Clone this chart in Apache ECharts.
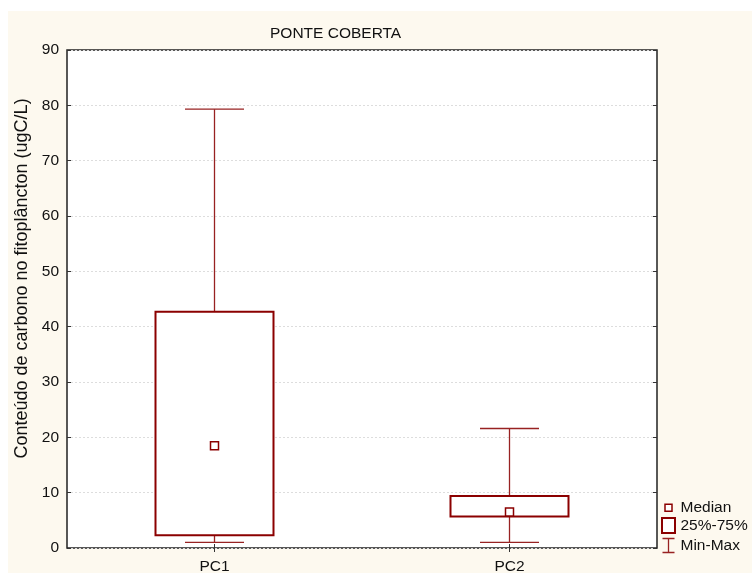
<!DOCTYPE html>
<html>
<head>
<meta charset="utf-8">
<script src="https://cdn.jsdelivr.net/npm/echarts@6/dist/echarts.min.js"></script>
<style>
html,body{margin:0;padding:0;background:#ffffff;}
#chart{position:absolute;left:8px;top:11px;width:744px;height:562px;background:#FDF9EF;}
</style>
</head>
<body>
<div id="chart"></div>
<script>
const categories = ['PC1', 'PC2'];
const minValues = [1.0, 1.0];
const q1Values = [2.3, 5.7];
const medianValues = [18.5, 6.5];
const q3Values = [42.7, 9.4];
const maxValues = [79.3, 21.6];
const yMin = 0, yMax = 90, yStep = 10;
const titleText = 'PONTE COBERTA';
const yAxisTitle = 'Conteúdo de carbono no fitoplâncton (ugC/L)';

const DARK = '#8B0000';
const WHISK = '#982222';
const FONT = 'Liberation Sans, Arial, sans-serif';
const FS = 15.5;

const boxData = categories.map((c, i) => [i, q1Values[i], q3Values[i]]);
const whiskerData = categories.map((c, i) => [i, minValues[i], q1Values[i], q3Values[i], maxValues[i]]);
const medianData = categories.map((c, i) => [i, medianValues[i]]);

const chart = echarts.init(document.getElementById('chart'), null, {renderer: 'canvas'});
chart.setOption({
  backgroundColor: 'transparent',
  animation: false,
  title: {
    text: titleText, left: 262, top: 15, padding: 0,
    textStyle: {fontFamily: FONT, fontSize: FS, fontWeight: 'normal', color: '#111'}
  },
  grid: {
    left: 59, top: 39, right: 95, bottom: 25,
    containLabel: false, outerBoundsMode: 'none',
    show: true, backgroundColor: '#ffffff', borderColor: '#222', borderWidth: 1.5
  },
  legend: {
    orient: 'vertical', left: 646, top: 483,
    itemWidth: 14, itemHeight: 15, itemGap: 1.5,
    textStyle: {fontFamily: FONT, fontSize: FS, color: '#111'},
    selectedMode: false,
    data: [
      {name: 'Median', icon: 'path://M0,0M14,15M3.5,4.5h7v7h-7z',
        itemStyle: {color: '#ffffff', borderColor: DARK, borderWidth: 1.5}},
      {name: '25%-75%', icon: 'path://M0,0h13v15h-13z',
        itemStyle: {color: '#ffffff', borderColor: DARK, borderWidth: 2}},
      {name: 'Min-Max', icon: 'path://M0,0M14,15M1,0.5h12M7,0.5v14M1,14.5h12',
        itemStyle: {color: 'none', borderColor: WHISK, borderWidth: 1.3}}
    ]
  },
  xAxis: [
    {
      type: 'category', data: categories, position: 'bottom', boundaryGap: true,
      axisLine: {show: false},
      axisTick: {show: true, inside: true, alignWithLabel: true, length: 4, lineStyle: {color: '#333', width: 1}},
      axisLabel: {fontFamily: FONT, fontSize: FS, color: '#111', margin: 11},
      splitLine: {show: false}
    },
    {
      type: 'category', data: categories, position: 'top', boundaryGap: true,
      axisLine: {show: false},
      axisTick: {show: true, inside: true, alignWithLabel: true, length: 4, lineStyle: {color: '#333', width: 1}},
      axisLabel: {show: false},
      splitLine: {show: false}
    }
  ],
  yAxis: [
    {
      type: 'value', min: yMin, max: yMax, interval: yStep, position: 'left',
      name: yAxisTitle, nameLocation: 'middle', nameGap: 34, nameRotate: 90,
      nameTextStyle: {fontFamily: FONT, fontSize: 18, color: '#111', padding: [0, 0, 0, 41]},
      axisLine: {show: false},
      axisTick: {show: true, inside: true, length: 4, lineStyle: {color: '#333', width: 1}},
      axisLabel: {fontFamily: FONT, fontSize: FS, color: '#111', margin: 8},
      splitLine: {show: true, lineStyle: {color: '#dddddd', type: [2, 2], width: 1}}
    },
    {
      type: 'value', min: yMin, max: yMax, interval: yStep, position: 'right',
      axisLine: {show: false},
      axisTick: {show: true, inside: true, length: 4, lineStyle: {color: '#333', width: 1}},
      axisLabel: {show: false},
      splitLine: {show: false}
    }
  ],
  series: [
    {
      name: 'Min-Max', type: 'custom', xAxisIndex: 0, yAxisIndex: 0, z: 2,
      data: whiskerData,
      encode: {x: 0, y: [1, 2, 3, 4]},
      renderItem: function (params, api) {
        const x = api.value(0);
        const pMin = api.coord([x, api.value(1)]);
        const pQ1 = api.coord([x, api.value(2)]);
        const pQ3 = api.coord([x, api.value(3)]);
        const pMax = api.coord([x, api.value(4)]);
        const band = api.size([1, 0])[0];
        const half = band * 0.1;
        const st = {stroke: WHISK, lineWidth: 1.3, fill: null};
        return {
          type: 'group',
          children: [
            {type: 'line', shape: {x1: pQ3[0], y1: pQ3[1], x2: pMax[0], y2: pMax[1]}, style: st},
            {type: 'line', shape: {x1: pQ1[0], y1: pQ1[1], x2: pMin[0], y2: pMin[1]}, style: st},
            {type: 'line', shape: {x1: pMax[0] - half, y1: pMax[1], x2: pMax[0] + half, y2: pMax[1]}, style: st},
            {type: 'line', shape: {x1: pMin[0] - half, y1: pMin[1], x2: pMin[0] + half, y2: pMin[1]}, style: st}
          ]
        };
      }
    },
    {
      name: '25%-75%', type: 'custom', xAxisIndex: 0, yAxisIndex: 0, z: 3,
      data: boxData,
      encode: {x: 0, y: [1, 2]},
      renderItem: function (params, api) {
        const x = api.value(0);
        const pQ1 = api.coord([x, api.value(1)]);
        const pQ3 = api.coord([x, api.value(2)]);
        const band = api.size([1, 0])[0];
        const w = band * 0.4;
        return {
          type: 'rect',
          shape: {x: pQ3[0] - w / 2, y: pQ3[1], width: w, height: pQ1[1] - pQ3[1]},
          style: {stroke: DARK, lineWidth: 2, fill: '#ffffff'}
        };
      }
    },
    {
      name: 'Median', type: 'scatter', xAxisIndex: 0, yAxisIndex: 0, z: 4,
      data: medianData,
      symbol: 'rect', symbolSize: 8,
      itemStyle: {color: '#ffffff', borderColor: DARK, borderWidth: 1.5, opacity: 1}
    }
  ]
});
</script>
</body>
</html>
